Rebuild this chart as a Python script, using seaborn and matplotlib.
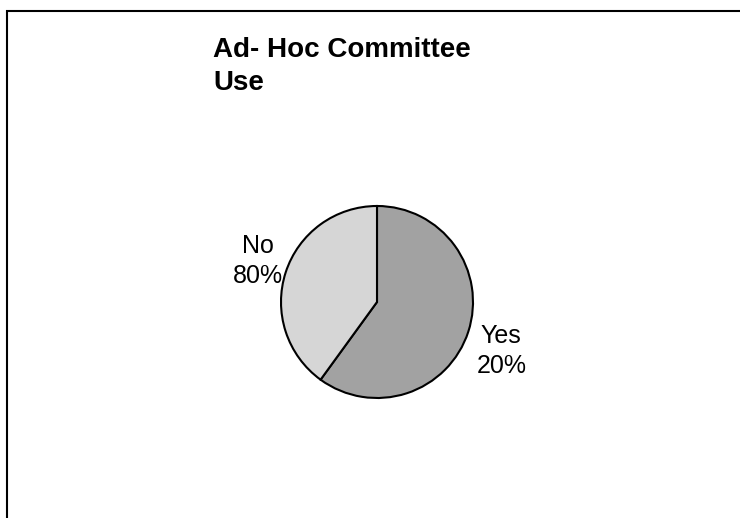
import matplotlib
matplotlib.use("Agg")
import matplotlib.pyplot as plt
import matplotlib.patches as mpatches
import matplotlib.transforms as mtransforms
import seaborn as sns

# ---- data ----
categories = ["Yes", "No"]
slice_shares = [60, 40]          # slice sizes as drawn
printed_pct = ["20%", "80%"]     # percentages as printed on the chart
slice_colors = ["#a2a2a2", "#d6d6d6"]
title_text = "Ad- Hoc Committee\nUse"

sns.set_theme(style="white")
plt.rcParams["font.family"] = ["Liberation Sans", "DejaVu Sans"]

fig = plt.figure(figsize=(7.4, 5.18), dpi=100)
fig.patch.set_facecolor("white")

ax = fig.add_axes([185 / 740, 24 / 518, 384 / 740, 384 / 518])
labels = [f"{c}\n{p}" for c, p in zip(categories, printed_pct)]
wedges, texts = ax.pie(
    slice_shares,
    labels=labels,
    colors=slice_colors,
    startangle=90,
    counterclock=False,
    labeldistance=1.12,
    wedgeprops=dict(edgecolor="black", linewidth=1.5),
    textprops=dict(fontsize=18, color="black", multialignment="center",
                   linespacing=1.3),
)
# small label nudges (in pixels) to match the original placement
nudges = [(-3, -16), (8, 8)]
for t, (dx, dy) in zip(texts, nudges):
    t.set_transform(mtransforms.offset_copy(t.get_transform(), fig=fig,
                                            x=dx, y=dy, units="dots"))
ax.set_xlim(-2, 2)
ax.set_ylim(-2, 2)
ax.set_aspect("equal")
ax.axis("off")

fig.text(213 / 740, (518 - 37) / 518, title_text, ha="left", va="top",
         fontsize=20, fontweight="bold", color="black", linespacing=1.35)

border = mpatches.Rectangle((7 / 740, -0.1), 1.2, (518 - 11.5) / 518 + 0.1,
                            transform=fig.transFigure, fill=False,
                            edgecolor="black", linewidth=1.5)
fig.patches.append(border)

fig.savefig("out.png", dpi=100, facecolor="white")
